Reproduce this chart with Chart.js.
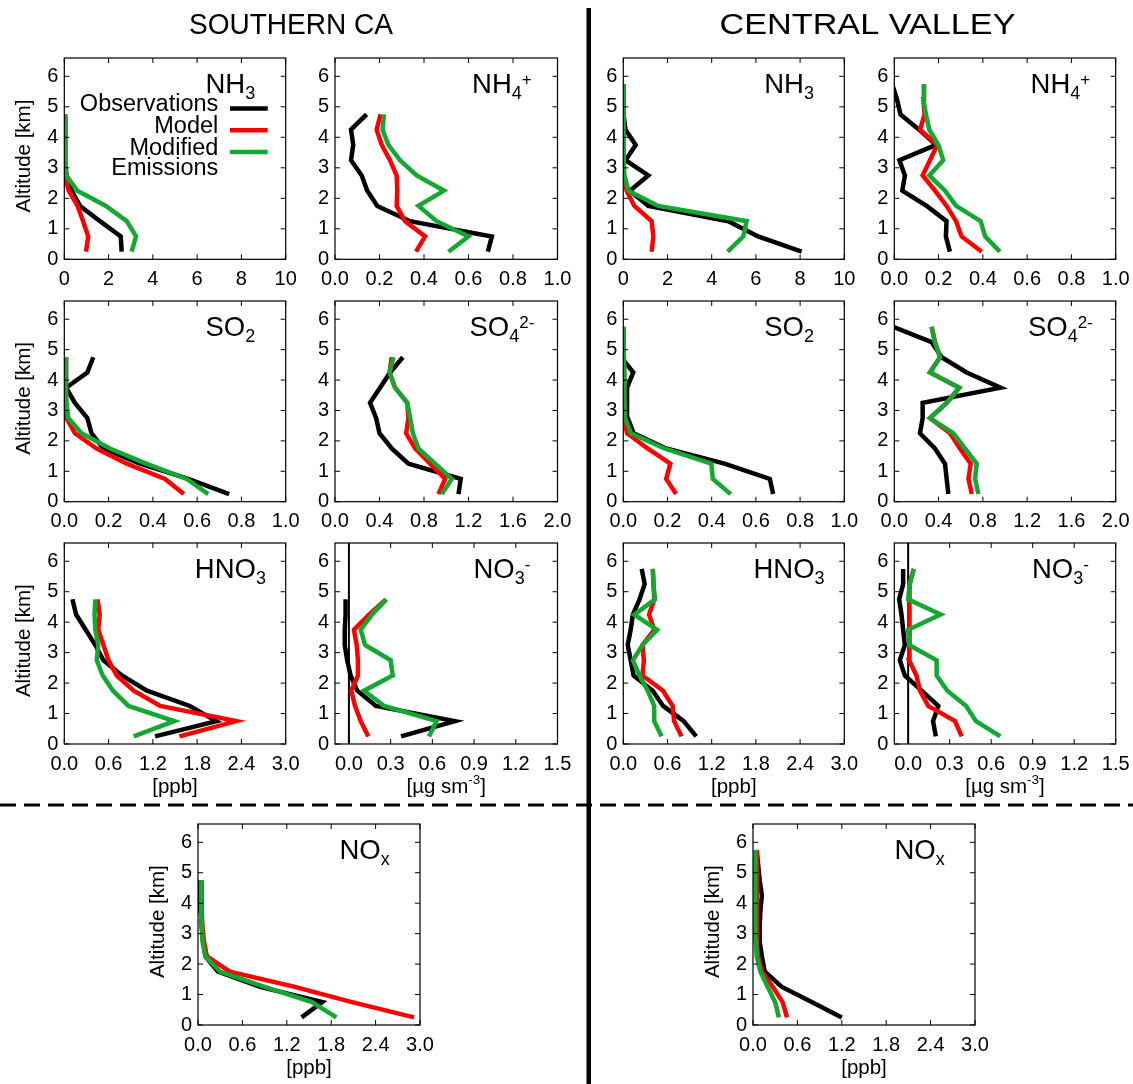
<!DOCTYPE html>
<html>
<head>
<meta charset="utf-8">
<script src="https://cdn.jsdelivr.net/npm/chart.js@4.4.1/dist/chart.umd.min.js"></script>
<style>
html,body{margin:0;padding:0;background:#fff;}
#wrap{position:relative;width:1133px;height:1084px;overflow:hidden;background:#fff;}
canvas{position:absolute;}
</style>
</head>
<body>
<div id="wrap"><canvas id="deco" width="1133" height="1084" style="left:0;top:0;width:1133px;height:1084px"></canvas></div>
<script>
// ---------------- DATA ----------------
const ALT_SC = [0.25, 0.75, 1.25, 1.75, 2.25, 2.75, 3.25, 3.75, 4.25, 4.75];
const ALT_CV = [0.25, 0.75, 1.25, 1.75, 2.25, 2.75, 3.25, 3.75, 4.25, 4.75, 5.25, 5.75];
const SERIES_NAMES = ['Observations', 'Model', 'Modified', 'Emissions'];
const REGIONS = ['SOUTHERN CA', 'CENTRAL VALLEY'];

// Southern CA
const SC_NH3_OBS  = [2.59, 2.55, 1.61, 0.71, 0.33, 0.10, 0.03, 0.01, 0.01, 0.01];
const SC_NH3_MOD  = [0.98, 1.08, 0.85, 0.60, 0.20, 0.02, 0.03, 0.03, 0.03, 0.03];
const SC_NH3_EMI  = [3.04, 3.24, 2.82, 1.88, 0.59, 0.08, 0.05, 0.05, 0.06, 0.07];
const SC_NH4_OBS  = [0.687, 0.705, 0.337, 0.19, 0.145, 0.12, 0.072, 0.082, 0.072, 0.142];
const SC_NH4_MOD  = [0.364, 0.405, 0.315, 0.277, 0.28, 0.277, 0.247, 0.21, 0.187, 0.205];
const SC_NH4_EMI  = [0.51, 0.60, 0.457, 0.375, 0.49, 0.367, 0.292, 0.24, 0.214, 0.22];
const SC_SO2_OBS  = [0.745, 0.56, 0.342, 0.176, 0.123, 0.104, 0.048, 0.008, 0.104, 0.131];
const SC_SO2_MOD  = [0.54, 0.455, 0.282, 0.146, 0.048, 0.01, 0.008, 0.008, 0.008, 0.008];
const SC_SO2_EMI  = [0.65, 0.553, 0.37, 0.206, 0.078, 0.018, 0.01, 0.008, 0.008, 0.008];
const SC_SO4_OBS  = [1.11, 1.13, 0.66, 0.51, 0.40, 0.37, 0.315, 0.405, 0.495, 0.61];
const SC_SO4_MOD  = [0.93, 0.99, 0.855, 0.72, 0.64, 0.66, 0.65, 0.54, 0.49, 0.51];
const SC_SO4_EMI  = [0.96, 1.05, 0.90, 0.75, 0.70, 0.675, 0.65, 0.54, 0.49, 0.525];
const SC_HNO3_OBS = [1.23, 2.06, 1.70, 1.12, 0.78, 0.53, 0.42, 0.29, 0.16, 0.11];
const SC_HNO3_MOD = [1.56, 2.33, 1.30, 0.94, 0.71, 0.60, 0.53, 0.46, 0.48, 0.45];
const SC_HNO3_EMI = [0.94, 1.49, 0.87, 0.66, 0.52, 0.44, 0.46, 0.42, 0.41, 0.42];
const SC_NO3_OBS  = [0.375, 0.762, 0.194, 0.06, 0.012, -0.012, -0.03, -0.03, -0.024, -0.024];
const SC_NO3_MOD  = [0.14, 0.085, 0.044, 0.017, 0.065, 0.065, 0.056, 0.036, 0.145, 0.266];
const SC_NO3_EMI  = [0.576, 0.63, 0.254, 0.109, 0.315, 0.30, 0.116, 0.085, 0.165, 0.27];
const SC_NOX_OBS  = [1.40, 1.68, 0.84, 0.27, 0.10, 0.07, 0.05, 0.04, 0.03, 0.03];
const SC_NOX_MOD  = [2.92, 2.08, 1.31, 0.43, 0.12, 0.08, 0.06, 0.05, 0.05, 0.05];
const SC_NOX_EMI  = [1.87, 1.54, 0.90, 0.30, 0.10, 0.06, 0.05, 0.04, 0.04, 0.04];

// Central Valley
const CV_NH3_OBS  = [8.07, 6.10, 4.75, 1.13, 0.30, 1.13, 0.10, 0.56, 0.10, 0.01, 0.01, 0.01];
const CV_NH3_MOD  = [1.28, 1.36, 1.28, 0.50, 0.15, 0.02, 0.01, 0.01, 0.01, 0.01, 0.01, 0.01];
const CV_NH3_EMI  = [4.72, 5.43, 5.58, 1.58, 0.23, 0.05, 0.02, 0.01, 0.01, 0.01, 0.01, 0.01];
const CV_NH4_OBS  = [0.251, 0.233, 0.236, 0.146, 0.036, 0.048, 0.023, 0.188, 0.112, 0.028, 0.012, -0.01];
const CV_NH4_MOD  = [0.395, 0.304, 0.279, 0.236, 0.184, 0.128, 0.161, 0.194, 0.116, 0.137, 0.131, 0.134];
const CV_NH4_EMI  = [0.477, 0.41, 0.39, 0.279, 0.229, 0.158, 0.221, 0.199, 0.158, 0.143, 0.131, 0.134];
const CV_SO2_OBS  = [0.678, 0.663, 0.458, 0.194, 0.047, 0.02, 0.017, 0.017, 0.045, -0.01, -0.01, -0.01];
const CV_SO2_MOD  = [0.239, 0.194, 0.213, 0.11, 0.017, 0.002, 0.002, 0.002, 0.002, 0.002, 0.002, 0.002];
const CV_SO2_EMI  = [0.486, 0.405, 0.398, 0.186, 0.035, 0.008, 0.006, 0.006, 0.005, 0.003, 0.002, 0.002];
const CV_SO4_OBS  = [0.488, 0.473, 0.458, 0.367, 0.232, 0.256, 0.256, 0.96, 0.654, 0.428, 0.337, -0.01];
const CV_SO4_MOD  = [0.70, 0.67, 0.69, 0.593, 0.503, 0.322, 0.473, 0.587, 0.322, 0.413, 0.367, 0.337];
const CV_SO4_EMI  = [0.76, 0.73, 0.744, 0.64, 0.533, 0.322, 0.473, 0.587, 0.322, 0.413, 0.367, 0.337];
const CV_HNO3_OBS = [0.99, 0.82, 0.54, 0.40, 0.14, 0.10, 0.06, 0.10, 0.13, 0.22, 0.29, 0.25];
const CV_HNO3_MOD = [0.79, 0.69, 0.67, 0.54, 0.26, 0.28, 0.26, 0.42, 0.35, 0.42, 0.41, 0.40];
const CV_HNO3_EMI = [0.52, 0.42, 0.42, 0.33, 0.22, 0.13, 0.26, 0.46, 0.15, 0.43, 0.41, 0.40];
const CV_NO3_OBS  = [0.20, 0.18, 0.218, 0.097, -0.024, -0.06, -0.024, -0.036, -0.048, -0.065, -0.036, -0.036];
const CV_NO3_MOD  = [0.387, 0.339, 0.145, 0.085, 0.06, 0.007, 0.012, 0.007, 0.012, 0.007, 0.012, 0.041];
const CV_NO3_EMI  = [0.666, 0.49, 0.419, 0.283, 0.206, 0.206, 0.007, 0.0, 0.235, 0.0, 0.012, 0.041];
const CV_NOX_OBS  = [1.20, 0.80, 0.39, 0.16, 0.12, 0.09, 0.09, 0.10, 0.12, 0.09, 0.07, 0.05];
const CV_NOX_MOD  = [0.46, 0.40, 0.27, 0.12, 0.07, 0.05, 0.05, 0.05, 0.05, 0.05, 0.05, 0.05];
const CV_NOX_EMI  = [0.35, 0.30, 0.20, 0.10, 0.05, 0.04, 0.04, 0.03, 0.03, 0.03, 0.03, 0.03];

// Tick values
const ALT_TICKS  = [0, 1, 2, 3, 4, 5, 6];
const TICKS_NH3  = [0, 2, 4, 6, 8, 10];
const TICKS_FRAC = [0, 0.2, 0.4, 0.6, 0.8, 1.0];
const TICKS_SO4  = [0, 0.4, 0.8, 1.2, 1.6, 2.0];
const TICKS_PPB3 = [0, 0.6, 1.2, 1.8, 2.4, 3.0];
const TICKS_NO3  = [0, 0.3, 0.6, 0.9, 1.2, 1.5];

// ---------------- STYLE / LAYOUT ----------------
const FONT = '"Liberation Sans", Arial, Helvetica, sans-serif';
const C_OBS = '#000000', C_MOD = '#ff0000', C_EMI = '#14a832';
const LW = 4.5;

const ROWS = [[52.7, 259.3], [295.1, 501.7], [537.4, 744.0], [818.4, 1025.0]];
const COLS = [[64.3, 285.7], [335.0, 557.5], [623.3, 844.3], [894.3, 1115.7]];
const COLS_NOX = [[198.0, 420.0], [753.0, 975.0]];

const PANELS = [
  {c:COLS[0], r:ROWS[0], xmin:0, xmax:10, ticks:TICKS_NH3, dec:0, title:[['NH','m'],['3','sub']], d:[SC_NH3_OBS, SC_NH3_MOD, SC_NH3_EMI], alt:ALT_SC, legend:true},
  {c:COLS[1], r:ROWS[0], xmin:0, xmax:1, ticks:TICKS_FRAC, dec:1, title:[['NH','m'],['4','sub'],['+','sup']], d:[SC_NH4_OBS, SC_NH4_MOD, SC_NH4_EMI], alt:ALT_SC},
  {c:COLS[2], r:ROWS[0], xmin:0, xmax:10, ticks:TICKS_NH3, dec:0, title:[['NH','m'],['3','sub']], d:[CV_NH3_OBS, CV_NH3_MOD, CV_NH3_EMI], alt:ALT_CV},
  {c:COLS[3], r:ROWS[0], xmin:0, xmax:1, ticks:TICKS_FRAC, dec:1, title:[['NH','m'],['4','sub'],['+','sup']], d:[CV_NH4_OBS, CV_NH4_MOD, CV_NH4_EMI], alt:ALT_CV},

  {c:COLS[0], r:ROWS[1], xmin:0, xmax:1, ticks:TICKS_FRAC, dec:1, title:[['SO','m'],['2','sub']], d:[SC_SO2_OBS, SC_SO2_MOD, SC_SO2_EMI], alt:ALT_SC},
  {c:COLS[1], r:ROWS[1], xmin:0, xmax:2, ticks:TICKS_SO4, dec:1, title:[['SO','m'],['4','sub'],['2-','sup']], d:[SC_SO4_OBS, SC_SO4_MOD, SC_SO4_EMI], alt:ALT_SC},
  {c:COLS[2], r:ROWS[1], xmin:0, xmax:1, ticks:TICKS_FRAC, dec:1, title:[['SO','m'],['2','sub']], d:[CV_SO2_OBS, CV_SO2_MOD, CV_SO2_EMI], alt:ALT_CV},
  {c:COLS[3], r:ROWS[1], xmin:0, xmax:2, ticks:TICKS_SO4, dec:1, title:[['SO','m'],['4','sub'],['2-','sup']], d:[CV_SO4_OBS, CV_SO4_MOD, CV_SO4_EMI], alt:ALT_CV},

  {c:COLS[0], r:ROWS[2], xmin:0, xmax:3, ticks:TICKS_PPB3, dec:1, title:[['HNO','m'],['3','sub']], d:[SC_HNO3_OBS, SC_HNO3_MOD, SC_HNO3_EMI], alt:ALT_SC},
  {c:COLS[1], r:ROWS[2], xmin:-0.1, xmax:1.5, ticks:TICKS_NO3, dec:1, zero:true, title:[['NO','m'],['3','sub'],['-','sup']], d:[SC_NO3_OBS, SC_NO3_MOD, SC_NO3_EMI], alt:ALT_SC},
  {c:COLS[2], r:ROWS[2], xmin:0, xmax:3, ticks:TICKS_PPB3, dec:1, title:[['HNO','m'],['3','sub']], d:[CV_HNO3_OBS, CV_HNO3_MOD, CV_HNO3_EMI], alt:ALT_CV},
  {c:COLS[3], r:ROWS[2], xmin:-0.1, xmax:1.5, ticks:TICKS_NO3, dec:1, zero:true, title:[['NO','m'],['3','sub'],['-','sup']], d:[CV_NO3_OBS, CV_NO3_MOD, CV_NO3_EMI], alt:ALT_CV},

  {c:COLS_NOX[0], r:ROWS[3], xmin:0, xmax:3, ticks:TICKS_PPB3, dec:1, title:[['NO','m'],['x','sub']], d:[SC_NOX_OBS, SC_NOX_MOD, SC_NOX_EMI], alt:ALT_SC},
  {c:COLS_NOX[1], r:ROWS[3], xmin:0, xmax:3, ticks:TICKS_PPB3, dec:1, title:[['NO','m'],['x','sub']], d:[CV_NOX_OBS, CV_NOX_MOD, CV_NOX_EMI], alt:ALT_CV}
];

// Axis titles (page layout)
const Y_TITLES = [
  {x:COLS[0][0], r:ROWS[0]}, {x:COLS[0][0], r:ROWS[1]}, {x:COLS[0][0], r:ROWS[2]},
  {x:COLS_NOX[0][0], r:ROWS[3]}, {x:COLS_NOX[1][0], r:ROWS[3]}
];
const X_TITLES = [
  {c:COLS[0], r:ROWS[2], parts:[['[ppb]','m']]},
  {c:COLS[1], r:ROWS[2], parts:[['[\u00b5g sm','m'],['-3','sup'],[']','m']]},
  {c:COLS[2], r:ROWS[2], parts:[['[ppb]','m']]},
  {c:COLS[3], r:ROWS[2], parts:[['[\u00b5g sm','m'],['-3','sup'],[']','m']]},
  {c:COLS_NOX[0], r:ROWS[3], parts:[['[ppb]','m']]},
  {c:COLS_NOX[1], r:ROWS[3], parts:[['[ppb]','m']]}
];
// header placement: [centre x, baseline y, target width]
const HEADERS = [[291, 33.5, 204], [867.5, 33.5, 296]];

// ---------------- HELPERS ----------------
function drawRich(ctx, parts, cx, by, sz) {
  const segs = [];
  let w = 0;
  for (const [txt, kind] of parts) {
    const size = kind === 'm' ? sz.m : (kind === 'sub' ? sz.sub : sz.sup);
    const dy = kind === 'm' ? 0 : (kind === 'sub' ? sz.subDy : sz.supDy);
    ctx.font = size + 'px ' + FONT;
    const mw = ctx.measureText(txt).width;
    segs.push({txt, size, dy, x: w});
    w += mw;
  }
  const x0 = cx - w / 2;
  ctx.textAlign = 'left';
  ctx.textBaseline = 'alphabetic';
  for (const s of segs) {
    ctx.font = s.size + 'px ' + FONT;
    ctx.fillText(s.txt, x0 + s.x, by + s.dy);
  }
}

const framePlugin = {
  id: 'frame',
  beforeDatasetsDraw(chart, args, o) {
    if (!o.zero) return;
    const {ctx, chartArea: a, scales: {x}} = chart;
    const px = x.getPixelForValue(0);
    ctx.save();
    ctx.strokeStyle = '#000'; ctx.lineWidth = 2;
    ctx.beginPath(); ctx.moveTo(px, a.top); ctx.lineTo(px, a.bottom); ctx.stroke();
    ctx.restore();
  },
  afterDatasetsDraw(chart, args, o) {
    const {ctx, chartArea: a, scales: {x, y}} = chart;
    ctx.save();
    ctx.strokeStyle = '#000';
    ctx.lineWidth = 1.2;
    ctx.strokeRect(a.left, a.top, a.right - a.left, a.bottom - a.top);
    ctx.lineWidth = 1;
    const L = 5;
    ctx.beginPath();
    for (const t of x.ticks) {
      const px = x.getPixelForValue(t.value);
      ctx.moveTo(px, a.bottom); ctx.lineTo(px, a.bottom - L);
      ctx.moveTo(px, a.top); ctx.lineTo(px, a.top + L);
    }
    for (const t of y.ticks) {
      const py = y.getPixelForValue(t.value);
      ctx.moveTo(a.left, py); ctx.lineTo(a.left + L, py);
      ctx.moveTo(a.right, py); ctx.lineTo(a.right - L, py);
    }
    ctx.stroke();
    // panel title
    ctx.fillStyle = '#000';
    drawRich(ctx, o.title, a.left + 0.75 * (a.right - a.left), a.top + 34.5,
      {m: 27.5, sub: 18, sup: 17, subDy: 6, supDy: -8});
    // legend
    if (o.legend) {
      ctx.font = '23.5px ' + FONT;
      ctx.textAlign = 'right';
      ctx.textBaseline = 'alphabetic';
      const tx = a.left + 154;
      ctx.fillText(SERIES_NAMES[0], tx, a.top + 53);
      ctx.fillText(SERIES_NAMES[1], tx, a.top + 75);
      ctx.fillText(SERIES_NAMES[2], tx, a.top + 96.5);
      ctx.fillText(SERIES_NAMES[3], tx, a.top + 116.6);
      const cols = [C_OBS, C_MOD, C_EMI];
      const ly = [50.6, 72.3, 94.0];
      ctx.lineWidth = LW;
      for (let i = 0; i < 3; i++) {
        ctx.strokeStyle = cols[i];
        ctx.beginPath();
        ctx.moveTo(a.left + 165.7, a.top + ly[i]);
        ctx.lineTo(a.left + 203.4, a.top + ly[i]);
        ctx.stroke();
      }
    }
    ctx.restore();
  }
};

function ds(vals, alt, color, order) {
  return {
    data: vals.map((v, i) => ({x: v, y: alt[i]})),
    borderColor: color, backgroundColor: color,
    borderWidth: LW, pointRadius: 0, pointHoverRadius: 0,
    showLine: true, fill: false, tension: 0,
    borderJoinStyle: 'miter', borderCapStyle: 'butt', order: order
  };
}

const wrap = document.getElementById('wrap');

function buildPanel(p) {
  const [l, r] = p.c, [t, b] = p.r;
  const cl = Math.floor(l) - 62, ct = Math.floor(t) - 12;
  const W = Math.ceil(r) + 26 - cl, H = Math.ceil(b) + 46 - ct;
  const Ly = l - cl, Pt = t - ct, Pr = cl + W - r, Lx = ct + H - b;
  const cv = document.createElement('canvas');
  cv.width = W; cv.height = H;
  cv.style.left = cl + 'px'; cv.style.top = ct + 'px';
  cv.style.width = W + 'px'; cv.style.height = H + 'px';
  wrap.appendChild(cv);
  const tickFont = {family: FONT, size: 20};
  new Chart(cv, {
    type: 'scatter',
    data: {datasets: [
      ds(p.d[0], p.alt, C_OBS, 3),
      ds(p.d[1], p.alt, C_MOD, 2),
      ds(p.d[2], p.alt, C_EMI, 1)
    ]},
    options: {
      responsive: false, maintainAspectRatio: false, animation: false,
      devicePixelRatio: 1, events: [],
      layout: {padding: {top: Pt, right: Pr, left: 0, bottom: 0}, autoPadding: false},
      plugins: {legend: {display: false}, tooltip: {enabled: false},
        frame: {title: p.title, legend: !!p.legend, zero: !!p.zero}},
      scales: {
        x: {
          type: 'linear', position: 'bottom', min: p.xmin, max: p.xmax,
          grid: {display: false, drawTicks: false}, border: {display: false},
          afterBuildTicks: s => { s.ticks = p.ticks.map(v => ({value: v})); },
          afterFit: s => { s.height = Lx; },
          ticks: {color: '#000', font: tickFont, padding: 8, maxRotation: 0, minRotation: 0,
            autoSkip: false, includeBounds: false,
            callback: v => Number(v).toFixed(p.dec)}
        },
        y: {
          type: 'linear', position: 'left', min: 0, max: 6.6,
          grid: {display: false, drawTicks: false}, border: {display: false},
          afterBuildTicks: s => { s.ticks = ALT_TICKS.map(v => ({value: v})); },
          afterFit: s => { s.width = Ly; },
          ticks: {color: '#000', font: tickFont, padding: 6, autoSkip: false, includeBounds: false,
            callback: v => String(Math.round(v))}
        }
      }
    },
    plugins: [framePlugin]
  });
}

PANELS.forEach(buildPanel);

// ---------------- PAGE DECORATION ----------------
(function () {
  const ctx = document.getElementById('deco').getContext('2d');
  ctx.fillStyle = '#000';
  ctx.font = '29px ' + FONT;
  ctx.textAlign = 'center';
  ctx.textBaseline = 'alphabetic';
  HEADERS.forEach(([cx, by, tw], i) => {
    const mw = ctx.measureText(REGIONS[i]).width;
    ctx.save();
    ctx.translate(cx, by);
    ctx.scale(tw / mw, 1);
    ctx.fillText(REGIONS[i], 0, 0);
    ctx.restore();
  });
  // vertical divider
  ctx.fillRect(586.5, 8, 4.5, 1076);
  // dashed horizontal divider
  ctx.save();
  ctx.strokeStyle = '#000'; ctx.lineWidth = 3;
  ctx.setLineDash([16, 8]);
  ctx.beginPath(); ctx.moveTo(0, 805); ctx.lineTo(1133, 805); ctx.stroke();
  ctx.restore();
  // y titles
  for (const yt of Y_TITLES) {
    ctx.save();
    ctx.translate(yt.x - 34, (yt.r[0] + yt.r[1]) / 2);
    ctx.rotate(-Math.PI / 2);
    ctx.font = '20.5px ' + FONT;
    ctx.textAlign = 'center';
    ctx.textBaseline = 'alphabetic';
    ctx.fillText('Altitude [km]', 0, 0);
    ctx.restore();
  }
  // x titles
  for (const xt of X_TITLES) {
    drawRich(ctx, xt.parts, (xt.c[0] + xt.c[1]) / 2, xt.r[1] + 48.5,
      {m: 20.5, sub: 14, sup: 13.5, subDy: 5, supDy: -9});
  }
})();
</script>
</body>
</html>
